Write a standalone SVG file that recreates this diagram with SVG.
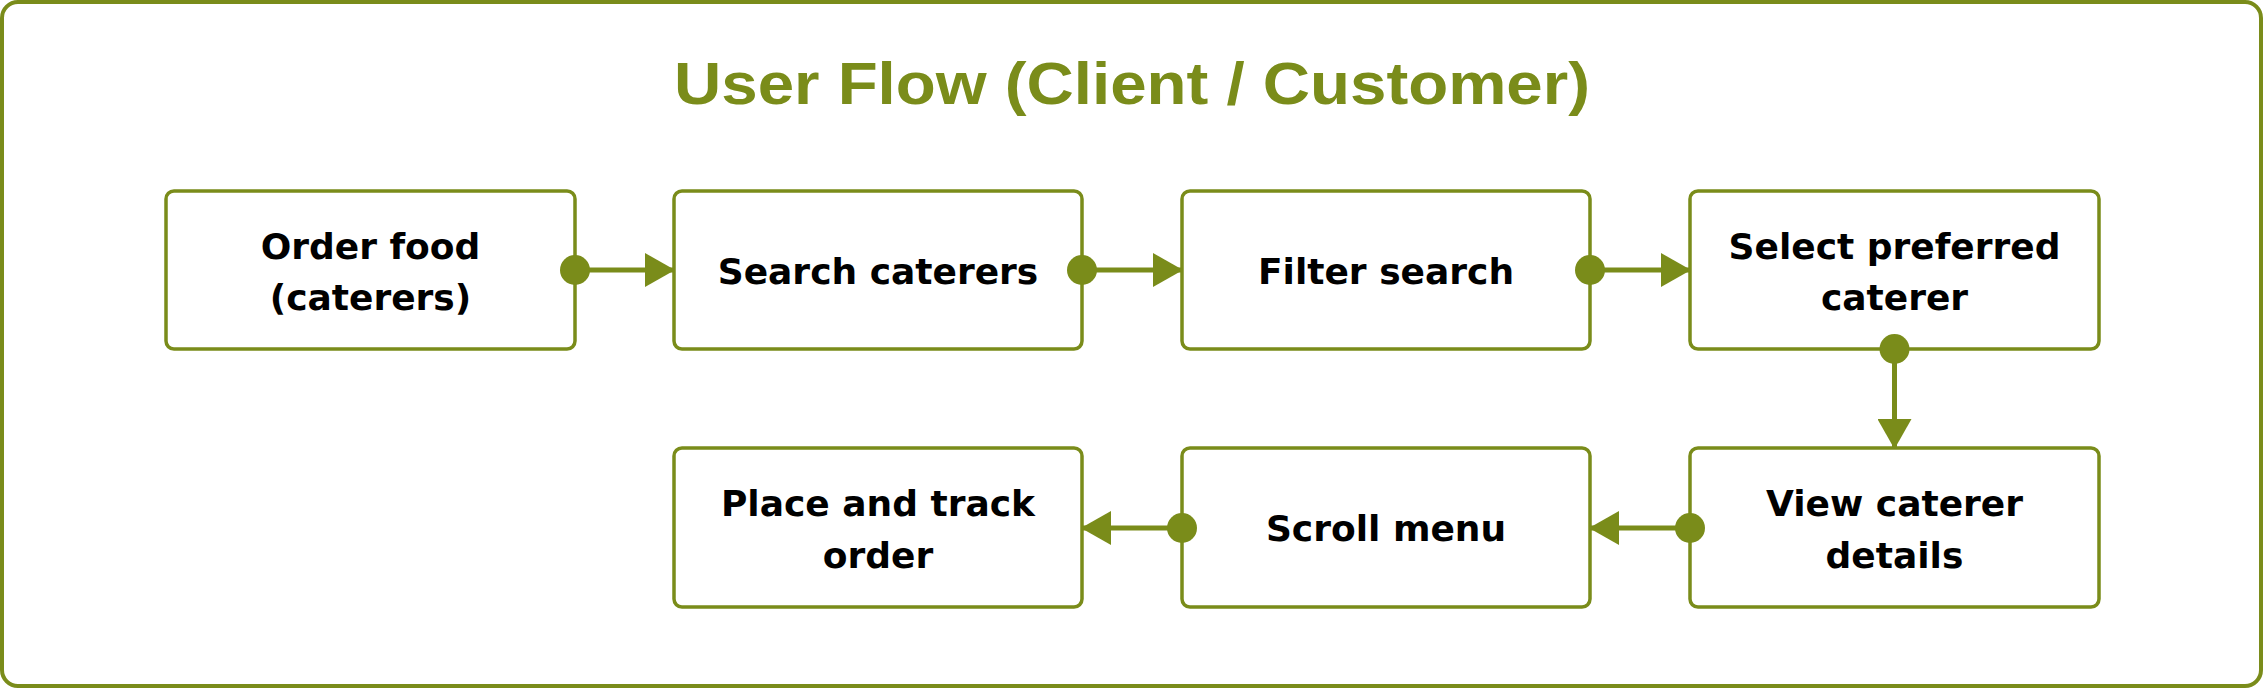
<svg xmlns="http://www.w3.org/2000/svg" width="2264" height="689" viewBox="0 0 2264 689">
<defs>
<style>
.frame{fill:#fff;stroke:#7a8c1a;stroke-width:4}
.box{fill:#fff;stroke:#7a8c1a;stroke-width:3.5}
.lbl{font-family:"DejaVu Sans","Liberation Sans",sans-serif;font-weight:700;font-size:36px;fill:#000;text-anchor:middle}
.title{font-family:"Liberation Sans",Arial,sans-serif;font-weight:700;font-size:60px;fill:#7a8c1a;text-anchor:middle}
.edge{stroke:#7a8c1a;stroke-width:5;fill:none}
.dot{fill:#7a8c1a}
</style>
<marker id="arr" markerUnits="userSpaceOnUse" markerWidth="30" markerHeight="34" refX="29" refY="17" orient="auto">
<path d="M0,0 L30,17 L0,34 Z" fill="#7a8c1a"/>
</marker>
</defs>
<rect class="frame" x="2" y="2" width="2259" height="684" rx="16"/>
<text class="title" x="1132" y="104" textLength="916" lengthAdjust="spacingAndGlyphs">User Flow (Client / Customer)</text>

<g id="n1"><rect class="box" x="166" y="191" width="409" height="158" rx="8"/>
<text class="lbl" x="370.5" y="259">Order food</text><text class="lbl" x="370.5" y="310">(caterers)</text></g>
<g id="n2"><rect class="box" x="674" y="191" width="408" height="158" rx="8"/>
<text class="lbl" x="878" y="284">Search caterers</text></g>
<g id="n3"><rect class="box" x="1182" y="191" width="408" height="158" rx="8"/>
<text class="lbl" x="1386" y="284">Filter search</text></g>
<g id="n4"><rect class="box" x="1690" y="191" width="409" height="158" rx="8"/>
<text class="lbl" x="1894.5" y="259">Select preferred</text><text class="lbl" x="1894.5" y="310">caterer</text></g>
<g id="n5"><rect class="box" x="1690" y="448" width="409" height="159" rx="8"/>
<text class="lbl" x="1894.5" y="516">View caterer</text><text class="lbl" x="1894.5" y="568">details</text></g>
<g id="n6"><rect class="box" x="1182" y="448" width="408" height="159" rx="8"/>
<text class="lbl" x="1386" y="541">Scroll menu</text></g>
<g id="n7"><rect class="box" x="674" y="448" width="408" height="159" rx="8"/>
<text class="lbl" x="878" y="516">Place and track</text><text class="lbl" x="878" y="568">order</text></g>

<g id="connectors">
<path class="edge" d="M575,270 L674,270" marker-end="url(#arr)"/>
<circle class="dot" cx="575" cy="270" r="15"/>
<path class="edge" d="M1082,270 L1182,270" marker-end="url(#arr)"/>
<circle class="dot" cx="1082" cy="270" r="15"/>
<path class="edge" d="M1590,270 L1690,270" marker-end="url(#arr)"/>
<circle class="dot" cx="1590" cy="270" r="15"/>
<path class="edge" d="M1894.5,349 L1894.5,448" marker-end="url(#arr)"/>
<circle class="dot" cx="1894.5" cy="349" r="15"/>
<path class="edge" d="M1690,528 L1590,528" marker-end="url(#arr)"/>
<circle class="dot" cx="1690" cy="528" r="15"/>
<path class="edge" d="M1182,528 L1082,528" marker-end="url(#arr)"/>
<circle class="dot" cx="1182" cy="528" r="15"/>
</g>
</svg>
